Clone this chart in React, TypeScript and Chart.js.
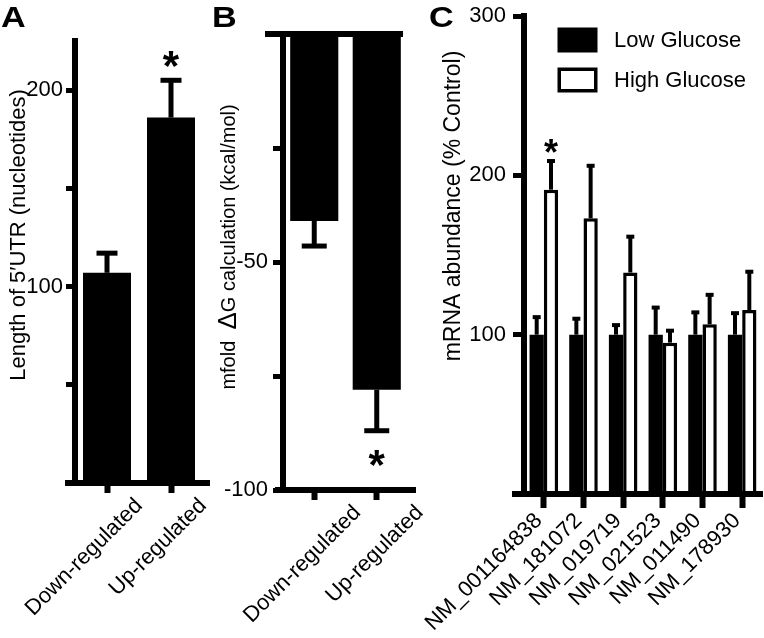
import React, { useEffect, useRef } from "react";
import { Chart, registerables } from "chart.js";

Chart.register(...registerables);

const W = 764;
const H = 638;
const SANS = "'Liberation Sans', Arial, Helvetica, sans-serif";

// ---------- Panel A: 5'UTR length ----------
const regulationGroups = ["Down-regulated", "Up-regulated"];
const utrLength = [107, 186];
const utrLengthErr = [10, 19];
const utrStars = [false, true];
const utrTicks = [0, 50, 100, 150, 200];
const utrTickLabels = [100, 200];

// ---------- Panel B: mfold dG ----------
const deltaG = [-41, -78];
const deltaGErr = [5.5, 9];
const deltaGStars = [false, true];
const deltaGTicks = [-100, -75, -50, -25, 0];
const deltaGTickLabels = [-100, -50];

// ---------- Panel C: mRNA abundance ----------
const transcripts = ["NM_001164838", "NM_181072", "NM_019719", "NM_021523", "NM_011490", "NM_178930"];
const seriesNames = ["Low Glucose", "High Glucose"];
const lowGlucose = [100, 100, 100, 100, 100, 100];
const lowGlucoseErr = [11, 10, 6, 17, 14, 13.5];
const highGlucose = [191, 173, 139, 95, 106.5, 115.5];
const highGlucoseErr = [18, 33, 22.5, 7.5, 18.5, 24];
const highGlucoseStars = [true, false, false, false, false, false];
const abundanceTicks = [0, 100, 200, 300];
const abundanceTickLabels = [100, 200, 300];

const font = (size: number, weight = "normal") => ({ family: SANS, size, weight });

const panelPlugin = {
  id: "panel",
  afterDatasetsDraw(chart: any, _args: any, o: any) {
    const { ctx, chartArea: a } = chart;
    const ys = chart.scales.y;
    ctx.save();
    ctx.strokeStyle = "#000";
    ctx.fillStyle = "#000";
    ctx.lineCap = "butt";

    // error bars and significance stars
    chart.data.datasets.forEach((ds: any, di: number) => {
      const meta = chart.getDatasetMeta(di);
      meta.data.forEach((el: any, i: number) => {
        const v = ds.data[i];
        const e = ds.errors ? ds.errors[i] : 0;
        const dir = v < 0 ? -1 : 1;
        const p0 = ys.getPixelForValue(v);
        const p1 = ys.getPixelForValue(v + dir * e);
        ctx.lineWidth = o.errWidth;
        ctx.beginPath();
        ctx.moveTo(el.x, p0);
        ctx.lineTo(el.x, p1);
        ctx.stroke();
        ctx.lineWidth = o.capWidth;
        ctx.beginPath();
        ctx.moveTo(el.x - o.capHalf, p1);
        ctx.lineTo(el.x + o.capHalf, p1);
        ctx.stroke();
        if (ds.stars && ds.stars[i]) {
          ctx.font = o.starFont;
          ctx.textAlign = "center";
          ctx.textBaseline = "alphabetic";
          const m = ctx.measureText("*");
          const cy = p1 - dir * o.starGap;
          const by = cy + (m.actualBoundingBoxAscent - m.actualBoundingBoxDescent) / 2;
          ctx.fillText("*", el.x, by);
        }
      });
    });

    // extended axis lines (Prism style)
    ctx.lineWidth = o.axisWidth;
    ctx.beginPath();
    ctx.moveTo(a.left - o.bottomExt[0], a.bottom);
    ctx.lineTo(a.right + o.bottomExt[1], a.bottom);
    ctx.stroke();
    if (o.topExt) {
      const yt = ys.getPixelForValue(0);
      ctx.beginPath();
      ctx.moveTo(a.left - o.topExt[0], yt);
      ctx.lineTo(a.right + o.topExt[1], yt);
      ctx.stroke();
    }

    // y axis title
    ctx.save();
    ctx.translate(o.titleX, o.titleY);
    ctx.rotate(-Math.PI / 2);
    ctx.textBaseline = "middle";
    ctx.textAlign = "left";
    let total = 0;
    o.title.forEach((seg: any) => {
      ctx.font = `${seg.size}px ${SANS}`;
      total += ctx.measureText(seg.text).width;
    });
    let x = -total / 2;
    o.title.forEach((seg: any) => {
      ctx.font = `${seg.size}px ${SANS}`;
      ctx.fillText(seg.text, x, 0);
      x += ctx.measureText(seg.text).width;
    });
    ctx.restore();

    // panel letter
    ctx.save();
    ctx.translate(o.letterX, o.letterY);
    ctx.scale(1.18, 1);
    ctx.font = `bold 29px ${SANS}`;
    ctx.textAlign = "left";
    ctx.textBaseline = "alphabetic";
    ctx.fillText(o.letter, 0, 0);
    ctx.restore();

    // legend
    if (o.legend) {
      const L = o.legend;
      chart.data.datasets.forEach((ds: any, i: number) => {
        const cy = L.y + i * L.rowGap;
        const bx = L.x;
        const by = cy - L.boxH / 2;
        ctx.fillStyle = "#000";
        ctx.fillRect(bx, by, L.boxW, L.boxH);
        if (ds.backgroundColor !== "#000") {
          const bw = ds.borderWidth;
          ctx.fillStyle = ds.backgroundColor;
          ctx.fillRect(bx + bw, by + bw, L.boxW - 2 * bw, L.boxH - 2 * bw);
        }
        ctx.fillStyle = "#000";
        ctx.font = `${L.fontSize}px ${SANS}`;
        ctx.textBaseline = "middle";
        ctx.textAlign = "left";
        ctx.fillText(ds.label, L.textX, cy + 1);
      });
    }
    ctx.restore();
  },
};

function yAxis(min: number, max: number, tickVals: number[], labelVals: number[], width: number, tickLength: number, padding: number) {
  return {
    type: "linear",
    min,
    max,
    afterBuildTicks: (s: any) => {
      s.ticks = tickVals.map((v) => ({ value: v }));
    },
    grid: { display: true, drawOnChartArea: false, drawTicks: true, tickLength, tickWidth: 5, tickColor: "#000" },
    border: { display: true, width: 6, color: "#000" },
    ticks: {
      color: "#000",
      font: font(22),
      padding,
      callback: (v: number) => (labelVals.includes(v) ? String(v) : ""),
    },
    afterFit: (s: any) => {
      s.width = width;
      s.paddingTop = 0;
      s.paddingBottom = 0;
    },
  };
}

function xAxis(height: number, tickLength: number, labelOffset: number, padding: number) {
  return {
    type: "category",
    offset: true,
    grid: { display: true, drawOnChartArea: false, drawTicks: true, tickLength, tickWidth: 6, tickColor: "#000", offset: false },
    border: { display: true, width: 6, color: "#000" },
    ticks: {
      color: "#000",
      font: font(22),
      minRotation: 45,
      maxRotation: 45,
      autoSkip: false,
      padding,
      labelOffset,
    },
    afterFit: (s: any) => {
      s.height = height;
      s.paddingLeft = 0;
      s.paddingRight = 0;
    },
  };
}

const common = {
  responsive: false,
  animation: false,
  devicePixelRatio: 1,
  events: [],
};

function makeA() {
  return {
    type: "bar",
    data: {
      labels: regulationGroups,
      datasets: [
        {
          label: "5'UTR length",
          data: utrLength,
          errors: utrLengthErr,
          stars: utrStars,
          backgroundColor: "#000",
          borderWidth: 0,
          barPercentage: 0.75,
          categoryPercentage: 1,
        },
      ],
    },
    options: {
      ...common,
      layout: { padding: { left: 0, top: 41, right: W - 203, bottom: 0 } },
      scales: {
        x: xAxis(H - 483, 10, 32, 0),
        y: yAxis(0, 225, utrTicks, utrTickLabels, 75, 9, 3),
      },
      plugins: {
        legend: { display: false },
        tooltip: { enabled: false },
        panel: {
          errWidth: 5,
          capWidth: 5,
          capHalf: 10.5,
          starFont: `bold 42px ${SANS}`,
          starGap: 21,
          axisWidth: 6,
          bottomExt: [10, 7],
          title: [{ text: "Length of 5\u2032UTR (nucleotides)", size: 22 }],
          titleX: 19,
          titleY: 235,
          letter: "A",
          letterX: 1,
          letterY: 27,
        },
      },
    },
    plugins: [panelPlugin],
  };
}

function makeB() {
  return {
    type: "bar",
    data: {
      labels: regulationGroups,
      datasets: [
        {
          label: "mfold dG",
          data: deltaG,
          errors: deltaGErr,
          stars: deltaGStars,
          backgroundColor: "#000",
          borderWidth: 0,
          barPercentage: 0.77,
          categoryPercentage: 1,
        },
      ],
    },
    options: {
      ...common,
      layout: { padding: { left: 0, top: 34, right: W - 408, bottom: 0 } },
      scales: {
        x: xAxis(H - 490, 10, 43, 0),
        y: yAxis(-100, 0, deltaGTicks, deltaGTickLabels, 283, 10, 5),
      },
      plugins: {
        legend: { display: false },
        tooltip: { enabled: false },
        panel: {
          errWidth: 5,
          capWidth: 5,
          capHalf: 12.5,
          starFont: `bold 42px ${SANS}`,
          starGap: 27,
          axisWidth: 6,
          bottomExt: [8, 8],
          topExt: [18, -5],
          title: [
            { text: "mfold  ", size: 20 },
            { text: "\u0394", size: 26 },
            { text: "G calculation (kcal/mol)", size: 20 },
          ],
          titleX: 229,
          titleY: 247,
          letter: "B",
          letterX: 212,
          letterY: 27,
        },
      },
    },
    plugins: [panelPlugin],
  };
}

function makeC() {
  return {
    type: "bar",
    data: {
      labels: transcripts,
      datasets: [
        {
          label: seriesNames[0],
          data: lowGlucose,
          errors: lowGlucoseErr,
          backgroundColor: "#000",
          borderColor: "#000",
          borderWidth: 0,
          barPercentage: 1,
          categoryPercentage: 0.72,
        },
        {
          label: seriesNames[1],
          data: highGlucose,
          errors: highGlucoseErr,
          stars: highGlucoseStars,
          backgroundColor: "#fff",
          borderColor: "#000",
          borderWidth: 3.5,
          barPercentage: 1,
          categoryPercentage: 0.72,
        },
      ],
    },
    options: {
      ...common,
      layout: { padding: { left: 0, top: 16, right: W - 762, bottom: 0 } },
      scales: {
        x: xAxis(H - 494, 14, -5, 0),
        y: yAxis(0, 300, abundanceTicks, abundanceTickLabels, 524, 11, 7),
      },
      plugins: {
        legend: { display: false },
        tooltip: { enabled: false },
        panel: {
          errWidth: 4,
          capWidth: 4,
          capHalf: 4,
          starFont: `bold 36px ${SANS}`,
          starGap: 15,
          axisWidth: 6,
          bottomExt: [12, 1],
          title: [{ text: "mRNA abundance (% Control)", size: 23 }],
          titleX: 454,
          titleY: 206,
          letter: "C",
          letterX: 429,
          letterY: 27,
          legend: { x: 557.5, y: 40, rowGap: 40, boxW: 40, boxH: 25, textX: 614, fontSize: 22 },
        },
      },
    },
    plugins: [panelPlugin],
  };
}

function PanelCanvas({ make }: { make: () => any }) {
  const ref = useRef<HTMLCanvasElement>(null);
  useEffect(() => {
    const chart = new Chart(ref.current as HTMLCanvasElement, make());
    return () => chart.destroy();
  }, [make]);
  return (
    <canvas
      ref={ref}
      width={W}
      height={H}
      style={{ position: "absolute", left: 0, top: 0, width: W, height: H }}
    />
  );
}

export default function App() {
  return (
    <div style={{ position: "fixed", left: 0, top: 0, width: W, height: H, background: "#fff", overflow: "hidden" }}>
      <PanelCanvas make={makeA} />
      <PanelCanvas make={makeB} />
      <PanelCanvas make={makeC} />
    </div>
  );
}
